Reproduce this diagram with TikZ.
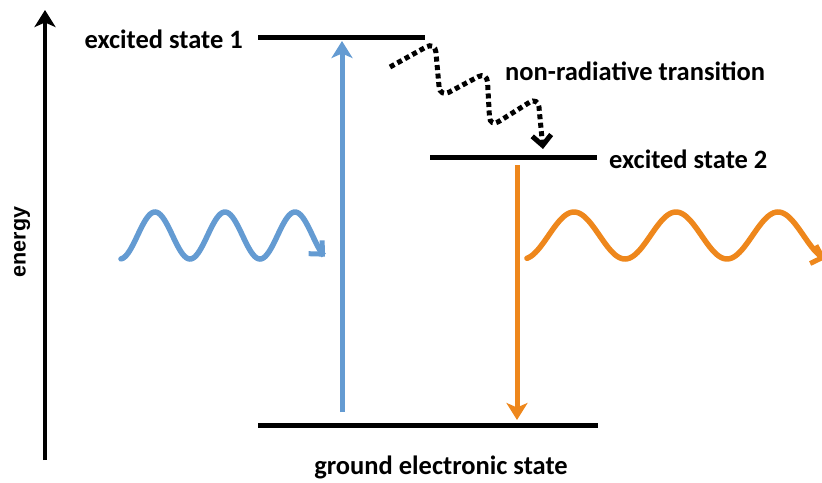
\documentclass[tikz,border=0pt]{standalone}
\usepackage{fontspec}
\setmainfont{Carlito}
\newfontfamily\arialb{Liberation Sans}
\usetikzlibrary{arrows.meta}
\definecolor{wblue}{RGB}{100,155,210}
\definecolor{worange}{RGB}{238,135,28}
\begin{document}
\begin{tikzpicture}[x=1pt,y=-1pt,
  level/.style={line width=5pt},
  lbl/.style={font=\fontsize{26.5}{30}\selectfont\bfseries, inner sep=0pt},
  tipfill/.style={-{Stealth[length=17pt,width=21pt,inset=4.5pt]}},
  barb/.style={-{Straight Barb[length=10pt,width=19pt,line width=5pt]}}]
\useasboundingbox (0,0) rectangle (822,482);
% energy axis
\coordinate (ax0) at (45,460);
\coordinate (ax1) at (45,10);
\draw[line width=4.5pt, tipfill] (ax0) -- (ax1);
\node[rotate=90, font=\arialb\bfseries\fontsize{21.5}{25}\selectfont, inner sep=0pt] (en) at (22,242) {energy};
% levels
\coordinate (e1l) at (258,37); \coordinate (e1r) at (425,37);
\coordinate (e2l) at (430,157); \coordinate (e2r) at (597,157);
\coordinate (gl) at (258,425); \coordinate (gr) at (598,425);
\draw[level] (e1l) -- (e1r);
\draw[level] (e2l) -- (e2r);
\draw[level] (gl) -- (gr);
\node[lbl, anchor=east] (e1lab) at (243,39) {excited state 1};
\node[lbl, anchor=west] (e2lab) at (609,159) {excited state 2};
\node[lbl] (glab) at (441,467) {ground electronic state};
\node[lbl, anchor=west] (nrlab) at (505,71) {non-radiative transition};
% absorption
\coordinate (ab0) at (342,412); \coordinate (ab1) at (342,41);
\draw[wblue, line width=5pt, tipfill] (ab0) -- (ab1);
% emission
\coordinate (em0) at (517,165); \coordinate (em1) at (517,420);
\draw[worange, line width=5pt, tipfill] (em0) -- (em1);
% non-radiative
\coordinate (n0) at (390,67); \coordinate (n1) at (435,42); \coordinate (n2) at (440,97);
\coordinate (n3) at (487,72); \coordinate (n4) at (490,127); \coordinate (n5) at (538,97);
\coordinate (n6) at (543,149);
\draw[line width=5pt, dash pattern=on 5pt off 3.5pt, rounded corners=10pt, barb]
  (n0) -- (n1) -- (n2) -- (n3) -- (n4) -- (n5) -- (n6);
% incoming photon
\draw[wblue, line width=5.5pt, line cap=round, barb]
  plot[domain=121:325, samples=120, smooth] (\x, {235.5-23.5*cos((\x-155)*5.142857)});
% emitted photon
\begin{scope}
\clip (0,0) rectangle (822,482);
\draw[worange, line width=5.5pt, line cap=round, barb]
  plot[domain=527:826, samples=150, smooth] (\x, {235.5-23.5*cos((\x-574)*3.529412)});
\end{scope}
\end{tikzpicture}
\end{document}
